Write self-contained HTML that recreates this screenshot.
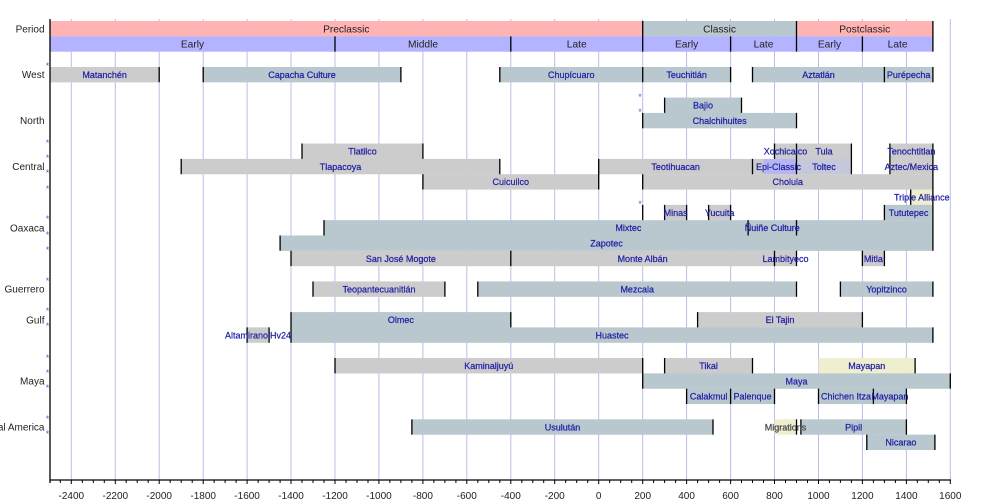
<!DOCTYPE html>
<html><head><meta charset="utf-8">
<style>
html,body{margin:0;padding:0;background:#fff;}
svg{display:block;}
text{font-family:"Liberation Sans",sans-serif;}
.l{font-size:9px;fill:#1e1ea4;stroke:#1e1ea4;stroke-width:0.22px;text-anchor:middle;}
.h{font-size:10.2px;fill:#222;text-anchor:middle;}
.r{font-size:10px;fill:#222;text-anchor:end;}
.t{font-size:10px;fill:#222;text-anchor:middle;}
.s{font-size:9px;fill:#4a6ad0;text-anchor:middle;}
</style></head>
<body>
<svg width="1000" height="500" viewBox="0 0 1000 500" xmlns="http://www.w3.org/2000/svg">
<!-- gridlines -->
<path stroke="#bcbcea" stroke-width="1" fill="none" d="M71.3 19V480M115.3 19V480M159.2 19V480M203.2 19V480M247.1 19V480M291 19V480M335 19V480M378.9 19V480M422.9 19V480M466.8 19V480M510.8 19V480M554.7 19V480M598.7 19V480M642.7 19V480M686.6 19V480M730.6 19V480M774.5 19V480M818.5 19V480M862.4 19V480M906.4 19V480M950.3 19V480"/>

<!-- header -->
<rect x="50" y="21" width="592.7" height="15.4" fill="#ffb3b3"/>
<rect x="642.7" y="21" width="153.8" height="15.4" fill="#b9c7ce"/>
<rect x="796.5" y="21" width="136.4" height="15.4" fill="#ffb3b3"/>
<rect x="50" y="36.32" width="882.9" height="15.4" fill="#b3b3ff"/>

<g>
<rect x="50" y="66.96" width="109.2" height="15.4" fill="#cccccc"/>
<rect x="203.2" y="66.96" width="197.7" height="15.4" fill="#b9c7ce"/>
<rect x="499.8" y="66.96" width="142.9" height="15.4" fill="#b9c7ce"/>
<rect x="642.7" y="66.96" width="87.9" height="15.4" fill="#b9c7ce"/>
<rect x="752.5" y="66.96" width="131.9" height="15.4" fill="#b9c7ce"/>
<rect x="884.4" y="66.96" width="48.5" height="15.4" fill="#b9c7ce"/>
<rect x="664.6" y="97.6" width="76.9" height="15.4" fill="#b9c7ce"/>
<rect x="642.7" y="112.92" width="153.8" height="15.4" fill="#b9c7ce"/>
<rect x="302" y="143.56" width="120.9" height="15.4" fill="#cccccc"/>
<rect x="774.5" y="143.56" width="22" height="15.4" fill="#cccccc"/>
<rect x="796.5" y="143.56" width="54.9" height="15.4" fill="#cccccc"/>
<rect x="889.9" y="143.56" width="43" height="15.4" fill="#cccccc"/>
<rect x="181.2" y="158.88" width="318.6" height="15.4" fill="#cccccc"/>
<rect x="598.7" y="158.88" width="164.8" height="15.4" fill="#cccccc"/>
<rect x="763.5" y="158.88" width="33" height="15.4" fill="#b6b6f2"/>
<rect x="796.5" y="158.88" width="54.9" height="15.4" fill="#c4c8da"/>
<rect x="889.9" y="158.88" width="43" height="15.4" fill="#cccccc"/>
<rect x="422.9" y="174.2" width="175.8" height="15.4" fill="#cccccc"/>
<rect x="642.7" y="174.2" width="290.2" height="15.4" fill="#cccccc"/>
<rect x="910.7" y="189.52" width="22.2" height="15.4" fill="#efefcf"/>
<rect x="664.6" y="204.84" width="22" height="15.4" fill="#cccccc"/>
<rect x="708.6" y="204.84" width="22" height="15.4" fill="#cccccc"/>
<rect x="884.4" y="204.84" width="48.5" height="15.4" fill="#b9c7ce"/>
<rect x="324" y="220.16" width="608.9" height="15.4" fill="#b9c7ce"/>
<rect x="280.1" y="235.48" width="652.8" height="15.4" fill="#b9c7ce"/>
<rect x="291" y="250.8" width="219.8" height="15.4" fill="#cccccc"/>
<rect x="510.8" y="250.8" width="263.7" height="15.4" fill="#cccccc"/>
<rect x="774.5" y="250.8" width="22" height="15.4" fill="#cccccc"/>
<rect x="862.4" y="250.8" width="22" height="15.4" fill="#cccccc"/>
<rect x="313" y="281.44" width="131.9" height="15.4" fill="#cccccc"/>
<rect x="477.8" y="281.44" width="318.7" height="15.4" fill="#b9c7ce"/>
<rect x="840.4" y="281.44" width="92.5" height="15.4" fill="#b9c7ce"/>
<rect x="291" y="312.08" width="219.8" height="15.4" fill="#b9c7ce"/>
<rect x="697.6" y="312.08" width="164.8" height="15.4" fill="#cccccc"/>
<rect x="247.1" y="327.4" width="22" height="15.4" fill="#cccccc"/>
<rect x="291" y="327.4" width="641.9" height="15.4" fill="#b9c7ce"/>
<rect x="335" y="358.04" width="307.7" height="15.4" fill="#cccccc"/>
<rect x="664.6" y="358.04" width="87.9" height="15.4" fill="#cccccc"/>
<rect x="818.5" y="358.04" width="96.6" height="15.4" fill="#efefcf"/>
<rect x="642.7" y="373.36" width="307.6" height="15.4" fill="#b9c7ce"/>
<rect x="686.6" y="388.68" width="87.9" height="15.4" fill="#b9c7ce"/>
<rect x="818.5" y="388.68" width="87.9" height="15.4" fill="#b9c7ce"/>
<rect x="411.9" y="419.32" width="301.1" height="15.4" fill="#b9c7ce"/>
<rect x="774.5" y="419.32" width="22" height="15.4" fill="#efefcf"/>
<rect x="800.9" y="419.32" width="105.5" height="15.4" fill="#b9c7ce"/>
<rect x="866.8" y="434.64" width="68.1" height="15.4" fill="#b9c7ce"/>
</g>

<path stroke="#000" stroke-width="1.3" fill="none" d="
M642.7 21V36.32M796.5 21V36.32M932.9 21V36.32
M335 36.32V51.64M510.8 36.32V51.64M642.7 36.32V51.64M730.6 36.32V51.64M796.5 36.32V51.64M862.4 36.32V51.64M932.9 36.32V51.64
M159.2 66.96V82.28M203.2 66.96V82.28M400.9 66.96V82.28M499.8 66.96V82.28M642.7 66.96V82.28M730.6 66.96V82.28M752.5 66.96V82.28M884.4 66.96V82.28M932.9 66.96V82.28
M664.6 97.6V112.92M741.5 97.6V112.92
M642.7 112.92V128.24M796.5 112.92V128.24
M302 143.56V158.88M422.9 143.56V158.88M774.5 143.56V158.88M796.5 143.56V158.88M851.4 143.56V158.88M889.9 143.56V158.88M932.9 143.56V158.88
M181.2 158.88V174.2M499.8 158.88V174.2M598.7 158.88V174.2M752.5 158.88V174.2M796.5 158.88V174.2M851.4 158.88V174.2M889.9 158.88V174.2M932.9 158.88V174.2
M422.9 174.2V189.52M598.7 174.2V189.52M642.7 174.2V189.52M932.9 174.2V189.52
M910.7 189.52V204.84M932.9 189.52V204.84
M642.7 204.84V220.16M664.6 204.84V220.16M686.6 204.84V220.16M708.6 204.84V220.16M730.6 204.84V220.16M884.4 204.84V220.16M932.9 204.84V220.16
M324 220.16V235.48M748.1 220.16V235.48M796.5 220.16V235.48M932.9 220.16V235.48
M280.1 235.48V250.8M932.9 235.48V250.8
M291 250.8V266.12M510.8 250.8V266.12M774.5 250.8V266.12M796.5 250.8V266.12M862.4 250.8V266.12M884.4 250.8V266.12
M313 281.44V296.76M444.9 281.44V296.76M477.8 281.44V296.76M796.5 281.44V296.76M840.4 281.44V296.76M932.9 281.44V296.76
M291 312.08V327.4M510.8 312.08V327.4M697.6 312.08V327.4M862.4 312.08V327.4
M247.1 327.4V342.72M269.1 327.4V342.72M291 327.4V342.72M932.9 327.4V342.72
M335 358.04V373.36M642.7 358.04V373.36M664.6 358.04V373.36M752.5 358.04V373.36M915.1 358.04V373.36
M642.7 373.36V388.68M950.3 373.36V388.68
M686.6 388.68V404M730.6 388.68V404M774.5 388.68V404M818.5 388.68V404M873.4 388.68V404M906.4 388.68V404
M411.9 419.32V434.64M713 419.32V434.64M796.5 419.32V434.64M800.9 419.32V434.64M906.4 419.32V434.64
M866.8 434.64V449.96M934.9 434.64V449.96"/>

<path stroke="#000" stroke-width="1.3" fill="none" d="M50 19V483M49.4 480H950.9"/>
<path stroke="#000" stroke-width="1" fill="none" d="M60.3 480v3M71.3 480v4M82.3 480v3M93.3 480v3M104.3 480v3M115.3 480v4M126.2 480v3M137.2 480v3M148.2 480v3M159.2 480v4M170.2 480v3M181.2 480v3M192.2 480v3M203.2 480v4M214.1 480v3M225.1 480v3M236.1 480v3M247.1 480v4M258.1 480v3M269.1 480v3M280.1 480v3M291 480v4M302 480v3M313 480v3M324 480v3M335 480v4M346 480v3M357 480v3M368 480v3M378.9 480v4M389.9 480v3M400.9 480v3M411.9 480v3M422.9 480v4M433.9 480v3M444.9 480v3M455.9 480v3M466.8 480v4M477.8 480v3M488.8 480v3M499.8 480v3M510.8 480v4M521.8 480v3M532.8 480v3M543.7 480v3M554.7 480v4M565.7 480v3M576.7 480v3M587.7 480v3M598.7 480v4M609.7 480v3M620.7 480v3M631.7 480v3M642.7 480v4M653.6 480v3M664.6 480v3M675.6 480v3M686.6 480v4M697.6 480v3M708.6 480v3M719.6 480v3M730.6 480v4M741.5 480v3M752.5 480v3M763.5 480v3M774.5 480v4M785.5 480v3M796.5 480v3M807.5 480v3M818.5 480v4M829.4 480v3M840.4 480v3M851.4 480v3M862.4 480v4M873.4 480v3M884.4 480v3M895.4 480v3M906.4 480v4M917.3 480v3M928.3 480v3M939.3 480v3M950.3 480v4"/>

<g class="t">
<text x="71.3" y="499" class="t">-2400</text>
<text x="115.3" y="499" class="t">-2200</text>
<text x="159.2" y="499" class="t">-2000</text>
<text x="203.2" y="499" class="t">-1800</text>
<text x="247.1" y="499" class="t">-1600</text>
<text x="291" y="499" class="t">-1400</text>
<text x="335" y="499" class="t">-1200</text>
<text x="378.9" y="499" class="t">-1000</text>
<text x="422.9" y="499" class="t">-800</text>
<text x="466.8" y="499" class="t">-600</text>
<text x="510.8" y="499" class="t">-400</text>
<text x="554.7" y="499" class="t">-200</text>
<text x="598.7" y="499" class="t">0</text>
<text x="642.7" y="499" class="t">200</text>
<text x="686.6" y="499" class="t">400</text>
<text x="730.6" y="499" class="t">600</text>
<text x="774.5" y="499" class="t">800</text>
<text x="818.5" y="499" class="t">1000</text>
<text x="862.4" y="499" class="t">1200</text>
<text x="906.4" y="499" class="t">1400</text>
<text x="950.3" y="499" class="t">1600</text>
</g>

<text x="44.5" y="32.3" class="r">Period</text>
<text x="44.5" y="78.2" class="r">West</text>
<text x="44.5" y="124.2" class="r">North</text>
<text x="44.5" y="170.1" class="r">Central</text>
<text x="44.5" y="231.4" class="r">Oaxaca</text>
<text x="44.5" y="292.7" class="r">Guerrero</text>
<text x="44.5" y="323.3" class="r">Gulf</text>
<text x="44.5" y="384.6" class="r">Maya</text>
<text x="44.5" y="430.6" class="r">Central America</text>

<text x="346.3" y="32.3" class="h">Preclassic</text>
<text x="719.6" y="32.3" class="h">Classic</text>
<text x="864.7" y="32.3" class="h">Postclassic</text>
<text x="192.5" y="47.6" class="h">Early</text>
<text x="423" y="47.6" class="h">Middle</text>
<text x="576.7" y="47.6" class="h">Late</text>
<text x="686.6" y="47.6" class="h">Early</text>
<text x="763.5" y="47.6" class="h">Late</text>
<text x="829.5" y="47.6" class="h">Early</text>
<text x="897.6" y="47.6" class="h">Late</text>

<g class="s">
<text x="47.5" y="69">*</text>
<text x="47.5" y="146">*</text>
<text x="47.5" y="161">*</text>
<text x="47.5" y="176">*</text>
<text x="47.5" y="192">*</text>
<text x="47.5" y="222">*</text>
<text x="47.5" y="238">*</text>
<text x="47.5" y="253">*</text>
<text x="47.5" y="284">*</text>
<text x="47.5" y="314">*</text>
<text x="47.5" y="329">*</text>
<text x="47.5" y="361">*</text>
<text x="47.5" y="376">*</text>
<text x="47.5" y="391">*</text>
<text x="47.5" y="422">*</text>
<text x="47.5" y="437">*</text>
<text x="640" y="100">*</text>
<text x="640" y="115">*</text>
<text x="640" y="207">*</text>
</g>

<g class="l">
<text x="104.6" y="77.9">Matanchén</text>
<text x="302" y="77.9">Capacha Culture</text>
<text x="571.3" y="77.9">Chupícuaro</text>
<text x="686.6" y="77.9">Teuchitlán</text>
<text x="818.5" y="77.9">Aztatlán</text>
<text x="908.6" y="77.9">Purépecha</text>
<text x="703" y="108.6">Bajio</text>
<text x="719.6" y="123.9">Chalchihuites</text>
<text x="362.5" y="154.5">Tlatilco</text>
<text x="785.5" y="154.5">Xochicalco</text>
<text x="824" y="154.5">Tula</text>
<text x="911.4" y="154.5">Tenochtitlan</text>
<text x="340.5" y="169.8">Tlapacoya</text>
<text x="675.6" y="169.8">Teotihuacan</text>
<text x="778.5" y="169.8">Epi-Classic</text>
<text x="824" y="169.8">Toltec</text>
<text x="911.4" y="169.8">Aztec/Mexica</text>
<text x="510.8" y="185.2">Cuicuilco</text>
<text x="787.8" y="185.2">Cholula</text>
<text x="921.8" y="200.5">Triple Alliance</text>
<text x="675.6" y="215.8">Minas</text>
<text x="719.6" y="215.8">Yucuita</text>
<text x="908.6" y="215.8">Tututepec</text>
<text x="628.4" y="231.1">Mixtec</text>
<text x="772.3" y="231.1">Ñuiñe Culture</text>
<text x="606.5" y="246.4">Zapotec</text>
<text x="400.9" y="261.8">San José Mogote</text>
<text x="642.6" y="261.8">Monte Albán</text>
<text x="785.5" y="261.8">Lambityeco</text>
<text x="873.4" y="261.8">Mitla</text>
<text x="379" y="292.4">Teopantecuanitlán</text>
<text x="637.2" y="292.4">Mezcala</text>
<text x="886.6" y="292.4">Yopitzinco</text>
<text x="400.9" y="323">Olmec</text>
<text x="780" y="323">El Tajin</text>
<text x="246.5" y="338.4">Altamirano</text>
<text x="280.5" y="338.4">Hv24</text>
<text x="612" y="338.4">Huastec</text>
<text x="488.8" y="369">Kaminaljuyú</text>
<text x="708.6" y="369">Tikal</text>
<text x="866.8" y="369">Mayapan</text>
<text x="796.5" y="384.3">Maya</text>
<text x="708.6" y="399.6">Calakmul</text>
<text x="752.5" y="399.6">Palenque</text>
<text x="846" y="399.6">Chichen Itza</text>
<text x="889.9" y="399.6">Mayapan</text>
<text x="562.5" y="430.3">Usulután</text>
<text x="785.5" y="430.3" style="fill:#444;stroke:#444">Migrations</text>
<text x="853.6" y="430.3">Pipil</text>
<text x="900.9" y="445.6">Nicarao</text>
</g>
</svg>
</body></html>
